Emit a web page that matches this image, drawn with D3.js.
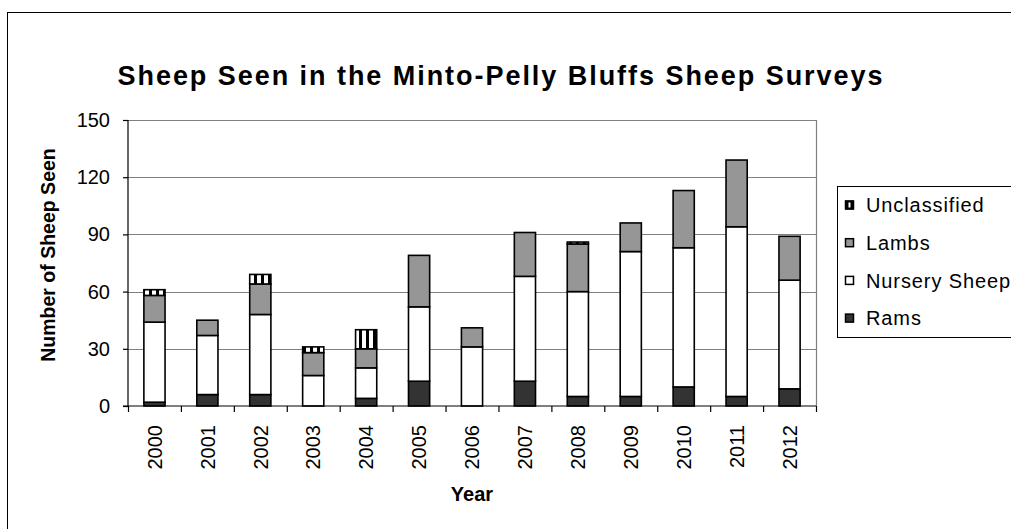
<!DOCTYPE html>
<html>
<head>
<meta charset="utf-8">
<script src="https://cdn.jsdelivr.net/npm/d3@7"></script>
<style>
  body { margin: 0; background: #fff; }
  text { font-family: "Liberation Sans", Arial, sans-serif; fill: #000; }
</style>
</head>
<body>
<div class="container"></div>
<script>
const years = ["2000","2001","2002","2003","2004","2005","2006","2007","2008","2009","2010","2011","2012"]
const rams         = [2, 6, 6, 0, 4, 13, 0, 13, 5, 5, 10, 5, 9]
const nursery      = [42, 31, 42, 16, 16, 39, 31, 55, 55, 76, 73, 89, 57]
const lambs        = [14, 8, 16, 12, 10, 27, 10, 23, 25, 15, 30, 35, 23]
const unclassified = [3, 0, 5, 3, 10, 0, 0, 0, 1, 0, 0, 0, 0]
const yTicks = [0, 30, 60, 90, 120, 150]

const seriesNames = ["Rams", "Nursery Sheep", "Lambs", "Unclassified"]
const fills = { "Rams": "#333333", "Nursery Sheep": "#ffffff", "Lambs": "#969696", "Unclassified": "url(#stripes)" }

const width = 1011
const height = 529
const margin = { top: 120, bottom: 123, left: 128, right: 195 }

let rows = years.map((y, i) => ({
    year: y,
    "Rams": rams[i],
    "Nursery Sheep": nursery[i],
    "Lambs": lambs[i],
    "Unclassified": unclassified[i]
}))

let stacked = d3.stack().keys(seriesNames)(rows)

let svg = d3.select(".container")
    .append("svg")
    .attr("width", width)
    .attr("height", height)
    .attr("viewBox", [0, 0, width, height])

let defs = svg.append("defs")
let pat = defs.append("pattern")
    .attr("id", "stripes")
    .attr("patternUnits", "userSpaceOnUse")
    .attr("width", 7)
    .attr("height", 10)
pat.append("rect").attr("width", 7).attr("height", 10).attr("fill", "#fff")
pat.append("rect").attr("x", 2).attr("width", 3).attr("height", 10).attr("fill", "#000")

// outer chart frame
svg.append("rect")
    .attr("x", 7.5).attr("y", 12.5)
    .attr("width", 1100).attr("height", 600)
    .attr("fill", "none").attr("stroke", "#000").attr("stroke-width", 1)

let x = d3.scaleBand()
    .domain(years)
    .range([margin.left, width - margin.right])
    .paddingInner(0.6)
    .paddingOuter(0.3)

let y = d3.scaleLinear()
    .domain([0, 150])
    .range([height - margin.bottom, margin.top])

// gridlines
svg.append("g")
    .selectAll("line")
    .data(yTicks.slice(1))
    .enter()
    .append("line")
    .attr("x1", margin.left).attr("x2", width - margin.right)
    .attr("y1", d => Math.round(y(d)) + 0.5).attr("y2", d => Math.round(y(d)) + 0.5)
    .attr("stroke", "#808080")
    .attr("stroke-width", 1.2)

// right border of plot
svg.append("line")
    .attr("x1", width - margin.right + 0.5).attr("x2", width - margin.right + 0.5)
    .attr("y1", y(150)).attr("y2", y(0))
    .attr("stroke", "#808080").attr("stroke-width", 1.2)

// bars
svg.append("g")
    .selectAll("g")
    .data(stacked)
    .enter()
    .append("g")
    .attr("fill", d => fills[d.key])
    .selectAll("rect")
    .data(d => d.filter(s => s[1] - s[0] > 0))
    .enter()
    .append("rect")
    .attr("x", d => x(d.data.year))
    .attr("y", d => y(d[1]))
    .attr("width", x.bandwidth())
    .attr("height", d => y(d[0]) - y(d[1]))
    .attr("stroke", "#000")
    .attr("stroke-width", 1.6)

// y axis
let yAxis = svg.append("g")
    .attr("transform", `translate(${margin.left}, 0)`)
    .call(d3.axisLeft(y).tickValues(yTicks).tickSize(5).tickPadding(13))
yAxis.selectAll("text").attr("font-size", 20).style("font-family", "'Liberation Sans', Arial, sans-serif")
yAxis.selectAll("line, path").attr("stroke", "#000").attr("stroke-width", 1.2)
yAxis.select("path").attr("d", `M0,${y(0)}V${y(150)}`)

// x axis
let xAxis = svg.append("g")
    .attr("transform", `translate(0, ${y(0)})`)
xAxis.append("line")
    .attr("x1", margin.left - 5).attr("x2", width - margin.right)
    .attr("stroke", "#000").attr("stroke-width", 1.2)
xAxis.selectAll(".tk")
    .data(d3.range(years.length + 1))
    .enter()
    .append("line")
    .attr("class", "tk")
    .attr("x1", i => margin.left + i * x.step() + 0.5)
    .attr("x2", i => margin.left + i * x.step() + 0.5)
    .attr("y1", 0).attr("y2", 6)
    .attr("stroke", "#000").attr("stroke-width", 1.2)
xAxis.selectAll(".lbl")
    .data(years)
    .enter()
    .append("text")
    .attr("class", "lbl")
    .attr("transform", d => `translate(${x(d) + x.bandwidth() / 2}, 19) rotate(-90)`)
    .attr("text-anchor", "end")
    .attr("dy", "0.36em")
    .attr("font-size", 20)
    .text(d => d)

// titles
svg.append("text")
    .attr("x", 500).attr("y", 85)
    .attr("text-anchor", "middle")
    .attr("font-size", 27)
    .attr("font-weight", "bold")
    .attr("textLength", 765)
    .attr("lengthAdjust", "spacing")
    .text("Sheep Seen in the Minto-Pelly Bluffs Sheep Surveys")

svg.append("text")
    .attr("transform", `translate(55, 255) rotate(-90)`)
    .attr("text-anchor", "middle")
    .attr("font-size", 19.5)
    .attr("font-weight", "bold")
    .text("Number of Sheep Seen")

svg.append("text")
    .attr("x", (margin.left + width - margin.right) / 2).attr("y", 501)
    .attr("text-anchor", "middle")
    .attr("font-size", 20)
    .attr("font-weight", "bold")
    .text("Year")

// legend
let legend = svg.append("g").attr("id", "legend")
legend.append("rect")
    .attr("x", 837.5).attr("y", 186.5)
    .attr("width", 200).attr("height", 151)
    .attr("fill", "#fff").attr("stroke", "#000").attr("stroke-width", 1)

let legendOrder = ["Unclassified", "Lambs", "Nursery Sheep", "Rams"]
let items = legend.selectAll(".legend-label")
    .data(legendOrder)
    .enter()
    .append("g")
    .attr("class", "legend-label")
    .attr("transform", (d, i) => `translate(845, ${205 + i * 37.7})`)

items.append("rect")
    .attr("x", 0.5).attr("y", -4)
    .attr("width", 8).attr("height", 8)
    .attr("fill", d => d === "Unclassified" ? "#fff" : fills[d])
    .attr("stroke", "#000").attr("stroke-width", 1.5)
items.filter(d => d === "Unclassified")
    .append("rect")
    .attr("x", 0).attr("y", -4.5).attr("width", 9).attr("height", 9).attr("fill", "#000")
items.filter(d => d === "Unclassified")
    .append("rect")
    .attr("x", 3.5).attr("y", -2.5).attr("width", 2).attr("height", 5).attr("fill", "#fff")

items.append("text")
    .attr("x", 21)
    .attr("dy", "0.36em")
    .attr("font-size", 20)
    .attr("letter-spacing", 0.9)
    .text(d => d)

svg.node()
</script>
</body>
</html>
